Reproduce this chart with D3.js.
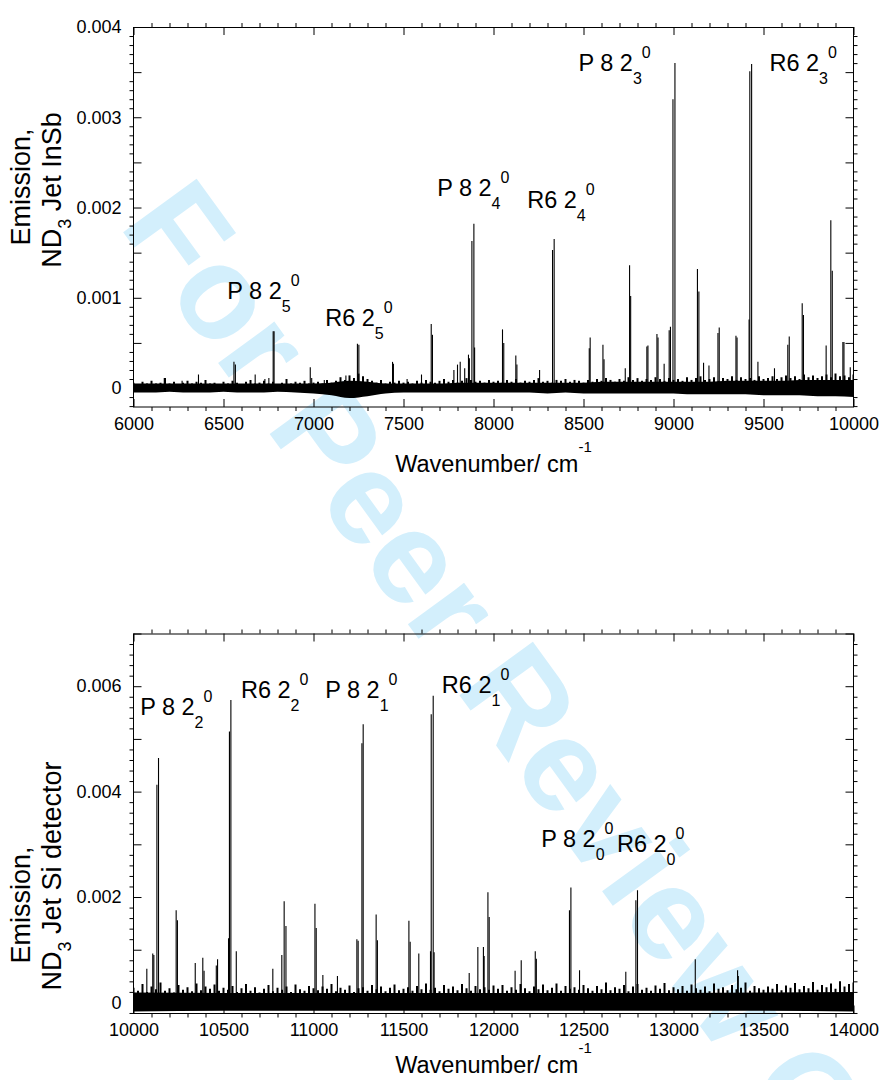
<!DOCTYPE html>
<html><head><meta charset="utf-8">
<script src="https://cdn.jsdelivr.net/npm/d3@7"></script>
<style>
body{margin:0;background:#fff}
svg{display:block}
text{font-family:"Liberation Sans",Arial,Helvetica,sans-serif}
</style>
</head><body>
<svg id="c" width="880" height="1080"></svg>
<script>
// ---------------- DATA ----------------
const xTicksTop = [6000, 6500, 7000, 7500, 8000, 8500, 9000, 9500, 10000];
const xTicksBottom = [10000, 10500, 11000, 11500, 12000, 12500, 13000, 13500, 14000];
const yTicksTop = [0, 0.001, 0.002, 0.003, 0.004];
const yTickLabelsTop = ["0", "0.001", "0.002", "0.003", "0.004"];
const yTicksBottom = [0, 0.002, 0.004, 0.006];
const yTickLabelsBottom = ["0", "0.002", "0.004", "0.006"];

// lines: [wavenumber cm-1, emission]
const peaksTop = [
  [6171,0.00011],[6270,0.00008],[6361,0.00015],[6558,0.00029],[6566,0.00026],[6676,0.00015],
  [6730,0.00010],[6752,0.00011],[6776,0.00063],[6781,0.00063],[6982,0.00023],[6990,0.00011],
  [7060,0.00009],[7180,0.00014],[7244,0.00049],[7252,0.00048],[7439,0.00029],[7444,0.00027],
  [7520,0.00010],[7600,0.00015],[7654,0.00071],[7661,0.00059],[7780,0.00020],[7800,0.00026],
  [7815,0.00029],[7840,0.00022],[7861,0.00037],[7866,0.00033],[7880,0.00163],[7891,0.00182],
  [7895,0.00045],[8050,0.00065],[8057,0.00050],[8124,0.00036],[8130,0.00026],[8256,0.00020],
  [8328,0.00153],[8337,0.00165],[8532,0.00044],[8537,0.00056],[8608,0.00048],[8614,0.00032],
  [8732,0.00022],[8756,0.00136],[8762,0.00102],[8852,0.00046],[8858,0.00047],[8908,0.00060],
  [8914,0.00056],[8948,0.00027],[8976,0.00064],[8983,0.00068],[8997,0.00320],[9008,0.00360],
  [9133,0.00132],[9141,0.00107],[9167,0.00028],[9197,0.00025],[9247,0.00061],[9254,0.00067],
  [9347,0.00058],[9353,0.00056],[9420,0.00076],[9424,0.00351],[9434,0.00359],[9469,0.00029],
  [9561,0.00022],[9635,0.00048],[9643,0.00057],[9715,0.00094],[9722,0.00081],[9848,0.00047],
  [9874,0.00186],[9882,0.00130],[9941,0.00051],[9947,0.00051],[9982,0.00023]
];
const peaksBottom = [
  [10074,0.00064],[10107,0.00093],[10113,0.00090],[10130,0.00413],[10139,0.00464],[10237,0.00175],
  [10244,0.00156],[10343,0.00075],[10385,0.00085],[10392,0.00060],[10460,0.00070],[10467,0.00082],
  [10528,0.00122],[10533,0.00514],[10541,0.00574],[10571,0.00097],[10774,0.00064],[10824,0.00090],
  [10837,0.00192],[10847,0.00145],[11008,0.00187],[11015,0.00141],[11052,0.00052],[11133,0.00050],
  [11241,0.00120],[11248,0.00117],[11269,0.00492],[11276,0.00528],[11348,0.00167],[11355,0.00118],
  [11530,0.00155],[11537,0.00115],[11585,0.00093],[11650,0.00097],[11654,0.00547],[11665,0.00582],
  [11670,0.00095],[11865,0.00056],[11913,0.00105],[11944,0.00105],[11948,0.00088],[11969,0.00209],
  [11976,0.00162],[12120,0.00060],[12154,0.00080],[12232,0.00097],[12238,0.00083],[12422,0.00175],
  [12430,0.00218],[12478,0.00061],[12735,0.00058],[12791,0.00194],[12800,0.00213],[13121,0.00082],
  [13356,0.00061],[13360,0.00050]
];

// noise (units of 1e-5): spike tops every 25 cm-1; dense band edges on a coarser grid
const NOISE_UNIT = 1e-5;
const noiseSpikesTop = [
  6,4,7,5,8,5,6,11,5,7,4,6,8,5,7,6,9,5,6,4,7,
  5,8,6,4,7,9,5,6,8,5,7,4,6,10,5,7,6,8,5,6,
  7,5,9,6,8,12,9,14,11,16,13,10,8,6,9,5,7,6,8,6,
  7,5,8,6,9,7,6,8,10,7,9,6,8,11,9,7,8,6,9,7,
  8,6,9,7,10,6,8,7,9,11,7,8,6,9,8,10,7,9,8,6,
  9,7,10,8,11,9,7,10,8,12,9,11,8,10,9,12,10,8,11,9,
  10,8,12,9,11,13,9,10,12,8,11,10,13,9,12,10,11,9,13,10,
  11,13,10,12,14,11,13,10,15,12,14,11,13,15,12,16,13,14,12,15
];
const noiseDenseTop = [
  5,5,5,5,5,5,5,5,5,5,
  5,6,8,7,5,5,5,5,6,6,
  6,6,6,6,6,6,7,7,7,7,
  7,7,7,8,8,8,8,9,9,9,
  9
];
const noiseLowerTop = [
  -5,-5,-4,-5,-5,-4,-5,-5,-4,-5,
  -6,-8,-11,-9,-6,-5,-5,-5,-5,-5,
  -5,-5,-5,-6,-5,-6,-6,-6,-6,-6,
  -6,-7,-7,-7,-7,-8,-8,-8,-9,-9,
  -10
];
const noiseSpikesBottom = [
  28,22,35,20,30,25,38,22,27,19,33,24,29,21,36,23,30,26,34,22,28,
  24,31,20,27,35,22,29,19,26,33,21,28,24,30,20,34,25,22,31,27,
  23,30,26,35,21,28,24,32,20,27,29,22,33,25,30,21,28,34,23,26,
  29,22,31,25,36,24,28,21,33,26,30,23,35,27,22,31,25,29,24,32,
  26,33,22,29,24,35,27,21,30,25,34,23,28,36,22,31,26,29,24,33,
  27,22,31,25,38,23,29,26,33,21,30,35,24,28,22,32,26,37,23,29,
  25,31,22,34,27,24,30,21,36,26,29,23,33,25,28,38,22,31,27,24,
  30,26,35,23,32,28,37,25,31,27,39,24,33,29,36,26,40,30,35,38
];
const noiseDenseBottom = [19,18,18,18,18,18,18,19,20];
const noiseLowerBottom = [-17,-16,-16,-16,-16,-16,-16,-16,-17];

// band assignments: [main, sub, sup, wavenumber anchor, emission anchor]
const annotTop = [
  ["P 8 2","5","0",6521,0.000983],
  ["R6 2","5","0",7065,0.000684],
  ["P 8 2","4","0",7687,0.002125],
  ["R6 2","4","0",8187,0.001992],
  ["P 8 2","3","0",8472,0.003514],
  ["R6 2","3","0",9533,0.003514]
];
const annotBottom = [
  ["P 8 2","2","0",10037,0.005455],
  ["R6 2","2","0",10597,0.005778],
  ["P 8 2","1","0",11065,0.005778],
  ["R6 2","1","0",11713,0.005873],
  ["P 8 2","0","0",12265,0.002948],
  ["R6 2","0","0",12686,0.002853]
];
const xTitle = "Wavenumber/ cm";
const xTitleSup = "-1";
const yTitleTop = ["Emission,", "ND", "3", " Jet InSb"];
const yTitleBottom = ["Emission,", "ND", "3", " Jet Si detector"];
const watermark = "For Peer Review Only";

// ---------------- DRAW ----------------
const svg = d3.select("#c");
svg.append("rect").attr("width",880).attr("height",1080).attr("fill","#fff");

// watermark (underneath)
svg.append("text")
  .attr("transform","translate(118,225) rotate(54)")
  .attr("font-size",132).attr("font-weight","bold")
  .attr("fill","#d3effc")
  .text(watermark);

const panels = [
  {x0:133.5,x1:853.5,y0:27,y1:407,xDom:[6000,10000],yDom:[-0.00021,0.004],
   xTicks:xTicksTop,yTicks:yTicksTop,yLabels:yTickLabelsTop,yMinorUnit:0.0001,yMinorN:[-2,40],
   peaks:peaksTop,spikes:noiseSpikesTop,dense:noiseDenseTop,lower:noiseLowerTop,coarse:100,
   annot:annotTop,xTitleY:472,yTitle:yTitleTop,yTitleC:[187,190]},
  {x0:133.5,x1:853.5,y0:633.5,y1:1013.5,xDom:[10000,14000],yDom:[-0.00021,0.007],
   xTicks:xTicksBottom,yTicks:yTicksBottom,yLabels:yTickLabelsBottom,yMinorUnit:0.0002,yMinorN:[-1,35],
   peaks:peaksBottom,spikes:noiseSpikesBottom,dense:noiseDenseBottom,lower:noiseLowerBottom,coarse:500,
   annot:annotBottom,xTitleY:1073,yTitle:yTitleBottom,yTitleC:[905,876]}
];

panels.forEach(p => {
  const x = d3.scaleLinear().domain(p.xDom).range([p.x0,p.x1]);
  const y = d3.scaleLinear().domain(p.yDom).range([p.y1,p.y0]);
  const g = svg.append("g");

  const cid = "clip"+Math.round(p.y0);
  svg.append("clipPath").attr("id",cid).append("rect")
    .attr("x",p.x0).attr("y",p.y0).attr("width",p.x1-p.x0).attr("height",p.y1-p.y0);
  const plot = g.append("g").attr("clip-path",`url(#${cid})`);

  // dense noise band
  const area = d3.area().curve(d3.curveMonotoneX)
    .x((d,i)=>x(p.xDom[0]+i*p.coarse))
    .y0((d,i)=>y(p.lower[i]*NOISE_UNIT))
    .y1((d,i)=>y(p.dense[i]*NOISE_UNIT));
  plot.append("path").datum(p.dense).attr("d",area).attr("fill","#000");

  // noise spikes
  plot.selectAll("line.nz").data(p.spikes).join("line").attr("class","nz")
    .attr("x1",(d,i)=>x(p.xDom[0]+i*25)).attr("x2",(d,i)=>x(p.xDom[0]+i*25))
    .attr("y1",y(0)).attr("y2",d=>y(d*NOISE_UNIT))
    .attr("stroke","#000").attr("stroke-width",2);

  // spectral lines
  plot.selectAll("line.pk").data(p.peaks).join("line").attr("class","pk")
    .attr("x1",d=>x(d[0])).attr("x2",d=>x(d[0]))
    .attr("y1",y(0)).attr("y2",d=>y(d[1]))
    .attr("stroke","#000").attr("stroke-width",1.1);

  // axes
  const xMinor = d3.range(p.xDom[0],p.xDom[1]+1,100).filter(v=>v%500!==0);
  const ks = d3.range(p.yMinorN[0],p.yMinorN[1]+1);
  const yMinor = ks.filter(k=>k%5!==0).map(k=>k*p.yMinorUnit);
  const yMed = ks.filter(k=>k%5===0 && k%10!==0).map(k=>k*p.yMinorUnit);

  const style = sel => {
    sel.select(".domain").remove();
    sel.selectAll("line").attr("stroke","#000").attr("stroke-width",1);
    sel.selectAll("text").attr("font-family",'"Liberation Sans",Arial,sans-serif')
      .attr("font-size",18).attr("fill","#000");
    sel.attr("font-family",null).attr("font-size",null);
  };
  g.append("g").attr("transform",`translate(0,${p.y1})`)
    .call(d3.axisBottom(x).tickValues(p.xTicks).tickSize(-8).tickPadding(10).tickFormat(d3.format("d"))).call(style);
  g.append("g").attr("transform",`translate(0,${p.y1})`)
    .call(d3.axisBottom(x).tickValues(xMinor).tickSize(4).tickFormat("")).call(style);
  g.append("g").attr("transform",`translate(0,${p.y0})`)
    .call(d3.axisTop(x).tickValues(p.xTicks).tickSize(-8).tickFormat("")).call(style);
  g.append("g").attr("transform",`translate(0,${p.y0})`)
    .call(d3.axisTop(x).tickValues(xMinor).tickSize(4).tickFormat("")).call(style);

  g.append("g").attr("transform",`translate(${p.x0},0)`)
    .call(d3.axisLeft(y).tickValues(p.yTicks).tickSize(-8).tickPadding(12).tickFormat((d,i)=>p.yLabels[i])).call(style);
  g.append("g").attr("transform",`translate(${p.x0},0)`)
    .call(d3.axisLeft(y).tickValues(yMed).tickSize(-8).tickFormat("")).call(style);
  g.append("g").attr("transform",`translate(${p.x0},0)`)
    .call(d3.axisLeft(y).tickValues(yMinor).tickSize(4).tickFormat("")).call(style);
  g.append("g").attr("transform",`translate(${p.x1},0)`)
    .call(d3.axisRight(y).tickValues(p.yTicks.concat(yMed)).tickSize(-8).tickFormat("")).call(style);
  g.append("g").attr("transform",`translate(${p.x1},0)`)
    .call(d3.axisRight(y).tickValues(yMinor).tickSize(4).tickFormat("")).call(style);

  // frame
  g.append("rect").attr("x",p.x0).attr("y",p.y0+0.5).attr("width",p.x1-p.x0).attr("height",p.y1-p.y0-0.5)
    .attr("fill","none").attr("stroke","#000").attr("stroke-width",1);

  // annotations
  p.annot.forEach(a => {
    const t = g.append("text").attr("x",x(a[3])).attr("y",y(a[4])).attr("font-size",23.5).attr("fill","#000");
    t.append("tspan").text(a[0]);
    t.append("tspan").attr("font-size",16).attr("dy",13).text(a[1]);
    t.append("tspan").attr("font-size",16).attr("dy",-26).text(a[2]);
  });

  // x title
  const xt = g.append("text").attr("x",(p.x0+p.x1)/2).attr("y",p.xTitleY)
    .attr("text-anchor","middle").attr("font-size",23.5).attr("fill","#000");
  xt.append("tspan").text(xTitle);
  xt.append("tspan").attr("font-size",15).attr("dy",-20).text(xTitleSup);

  // y title
  g.append("text").attr("transform",`translate(30,${p.yTitleC[0]}) rotate(-90)`)
    .attr("text-anchor","middle").attr("font-size",27).attr("fill","#000").text(p.yTitle[0]);
  const yt2 = g.append("text").attr("transform",`translate(61,${p.yTitleC[1]}) rotate(-90)`)
    .attr("text-anchor","middle").attr("font-size",27).attr("fill","#000");
  yt2.append("tspan").text(p.yTitle[1]);
  yt2.append("tspan").attr("font-size",18).attr("dy",10).text(p.yTitle[2]);
  yt2.append("tspan").attr("dy",-10).text(p.yTitle[3]);
});
</script>
</body></html>
